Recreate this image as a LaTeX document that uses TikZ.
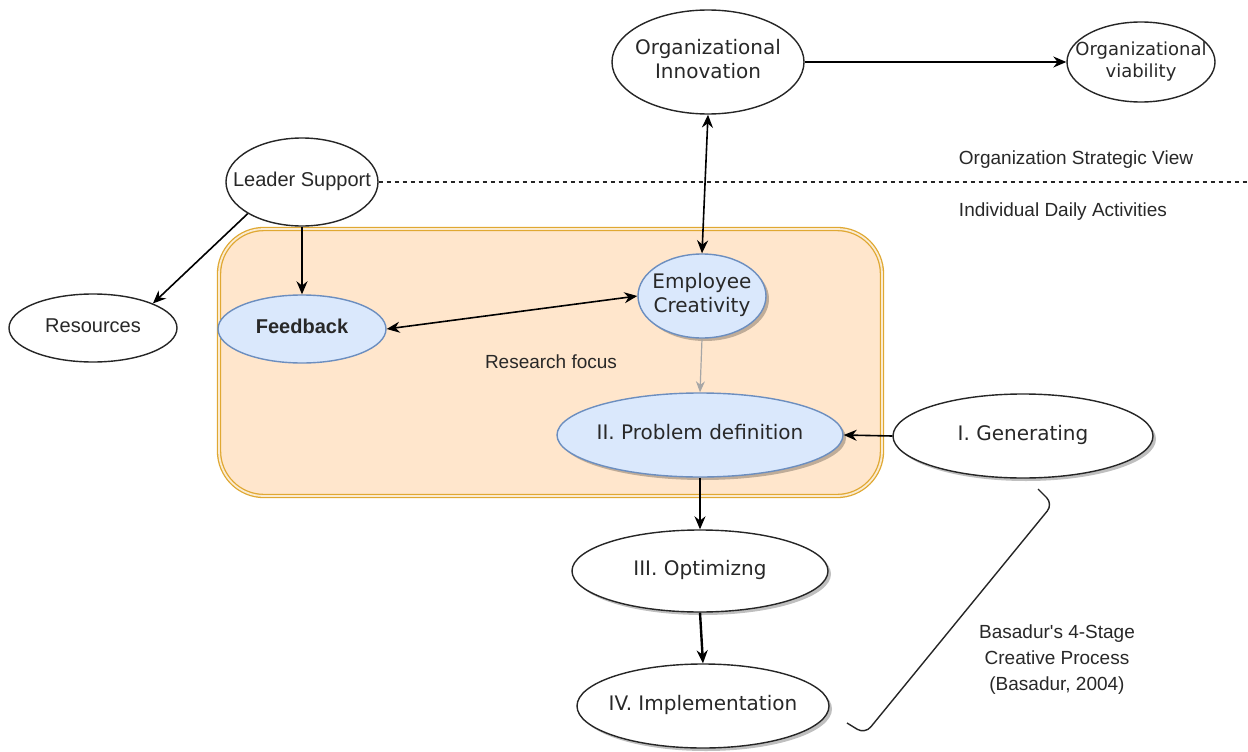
\documentclass[tikz,border=0pt]{standalone}
\usepackage{fontspec}
\setmainfont{Liberation Sans}
\newfontfamily\tah{DejaVu Sans}
\usetikzlibrary{shapes.geometric,arrows.meta,shadows}
\newcommand\zw[1]{\makebox[0pt][c]{\begin{tabular}{@{}c@{}}#1\end{tabular}}}
\definecolor{txt}{RGB}{40,40,40}
\definecolor{orstroke}{RGB}{224,168,50}
\definecolor{orfill}{RGB}{255,230,204}
\definecolor{blfill}{RGB}{218,232,252}
\definecolor{blstroke}{RGB}{108,142,191}
\tikzset{
  ell/.style={ellipse, draw=black!85, line width=1.4pt, fill=white, inner sep=0pt, text=txt},
  blue/.style={ell, fill=blfill, draw=blstroke},
  shd/.style={drop shadow={shadow xshift=3pt, shadow yshift=-3pt, opacity=0.25, fill=black}},
  arr/.style={draw=black, line width=1.6pt, -{Stealth[length=13pt,width=11pt]}},
  barr/.style={draw=black, line width=1.6pt, {Stealth[length=13pt,width=11pt]}-{Stealth[length=13pt,width=11pt]}},
  tah/.style={font=\tah\fontsize{20}{24}\selectfont},
  ari/.style={font=\fontsize{20}{24}\selectfont},
  lbl/.style={text=txt, inner sep=0pt},
}
\begin{document}
\begin{tikzpicture}[x=1pt,y=-1pt]
\useasboundingbox (0,0) rectangle (1248,752);
\fill[white] (0,0) rectangle (1248,752);

% research focus box
\draw[orstroke, line width=1.3pt, double=orfill!60!orstroke!40!white, double distance=1.8pt, fill=orfill, rounded corners=45pt] (219,229) rectangle (882,496);

% nodes
\node[ell, tah, minimum width=192pt, minimum height=104pt] (oi) at (708,62) {\zw{Organizational\\Innovation}};
\node[ell, font=\tah\fontsize{18}{22}\selectfont, minimum width=148pt, minimum height=80pt] (ov) at (1141,62) {\zw{Organizational\\viability}};
\node[ell, ari, minimum width=152pt, minimum height=88pt] (ls) at (302,182) {\zw{Leader Support}};
\node[ell, ari, minimum width=168pt, minimum height=68pt] (res) at (93,328) {\zw{Resources}};
\node[blue, font=\bfseries\fontsize{20}{24}\selectfont, minimum width=168pt, minimum height=68pt] (fb) at (302,329) {\zw{Feedback}};
\node[blue, shd, tah, minimum width=128pt, minimum height=84pt] (ec) at (702,296) {\zw{Employee\\Creativity}};
\node[blue, shd, tah, minimum width=286pt, minimum height=84pt] (pd) at (700,435) {\zw{II. Problem definition}};
\node[ell, shd, tah, minimum width=260pt, minimum height=84pt] (gen) at (1023,436) {\zw{I. Generating}};
\node[ell, shd, tah, minimum width=256pt, minimum height=82pt] (opt) at (700,571) {\zw{III. Optimizng}};
\node[ell, shd, tah, minimum width=252pt, minimum height=84pt] (imp) at (703,706) {\zw{IV. Implementation}};

% text labels
\node[lbl, font=\fontsize{19}{23}\selectfont] (osv) at (1076,160) {Organization Strategic View};
\node[lbl, font=\fontsize{19}{23}\selectfont] (ida) at (1063,212) {Individual Daily Activities};
\node[lbl, font=\fontsize{19}{23}\selectfont] (rf) at (551,362) {Research focus};
\node[lbl, font=\fontsize{19}{26}\selectfont, align=center] (bas) at (1057,660) {Basadur\textquotesingle s 4-Stage\\Creative Process\\(Basadur, 2004)};

% dashed divider
\coordinate (dashend) at (1248,180);
\draw[black!85, line width=1.3pt, dash pattern=on 4pt off 4pt] (ls.east) -- (ls.east -| dashend);

% connectors
\draw[arr] (oi.east) -- (ov.west);
\draw[barr] (oi.south) -- (ec.north);
\draw[arr] (ls.south west) -- (res.north east);
\draw[arr] (ls.south) -- (fb.north);
\draw[barr] (fb.east) -- (ec.west);
\draw[draw=black!35, line width=1.2pt, -{Stealth[length=11pt,width=9pt]}] (ec.south) -- (pd.north);
\draw[arr] (gen.west) -- (pd.east);
\draw[arr] (pd.south) -- (opt.north);
\draw[arr, line width=2.4pt] (opt.south) -- (imp.north);

% bracket
\coordinate (b1) at (1038,489);
\coordinate (b2) at (1053,504);
\coordinate (b3) at (865,734);
\coordinate (b4) at (847,723);
\draw[black!85, line width=1.4pt, rounded corners=9pt] (b1) -- (b2) -- (b3) -- (b4);
\end{tikzpicture}
\end{document}
